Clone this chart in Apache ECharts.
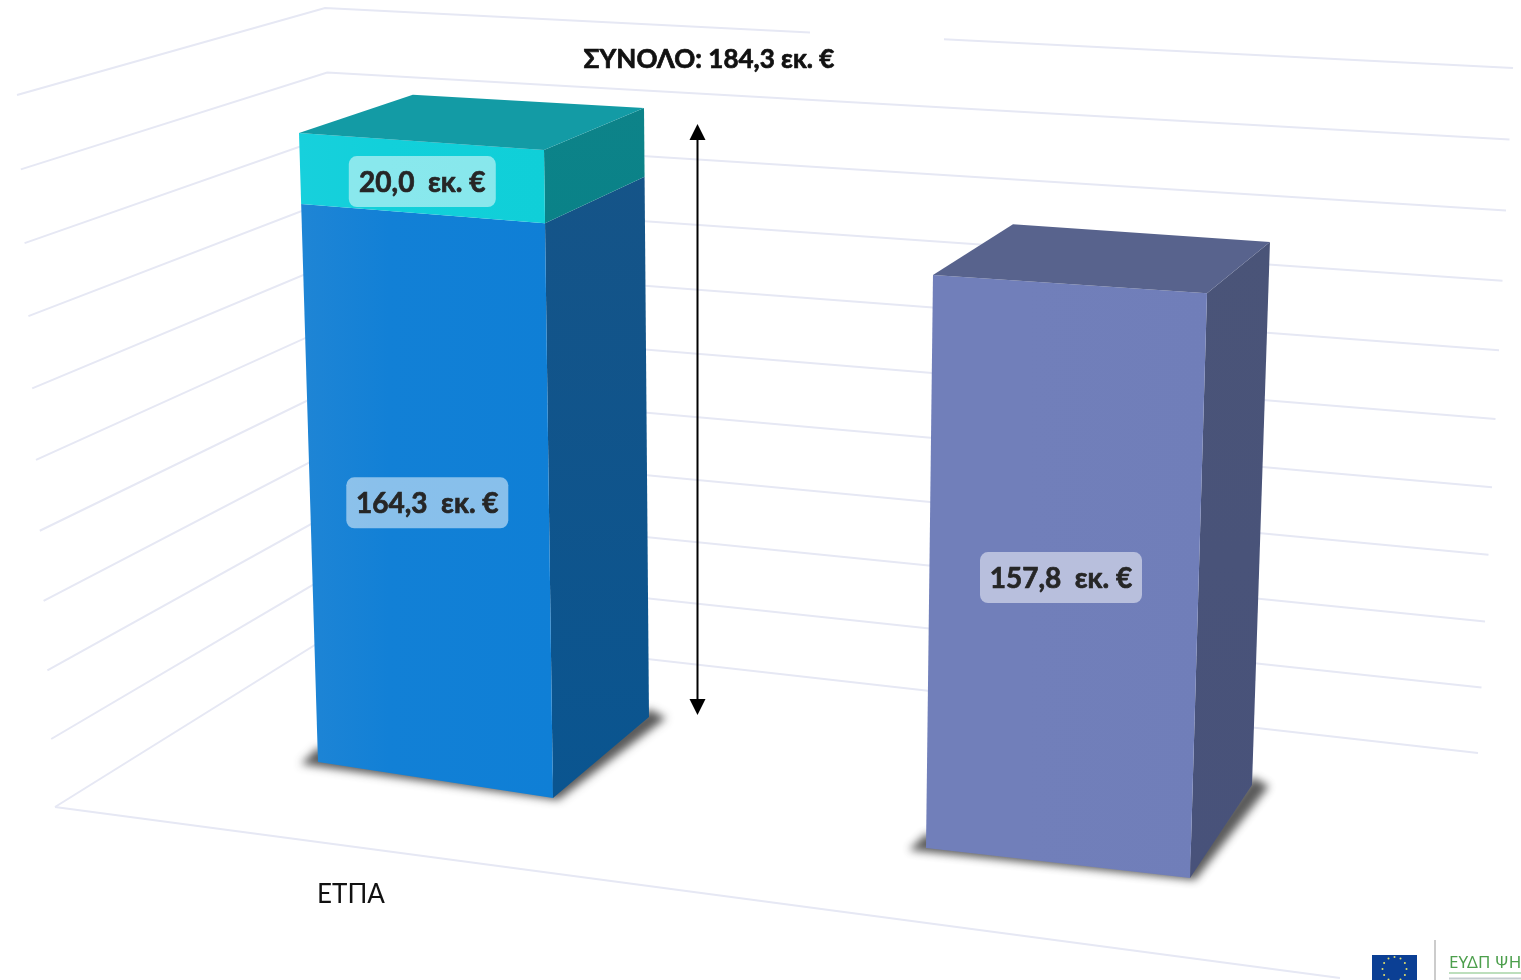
<!DOCTYPE html>
<html><head><meta charset="utf-8">
<style>html,body{margin:0;padding:0;background:#fff}#c{width:1521px;height:980px}</style>
<script src="https://cdn.jsdelivr.net/npm/echarts@6/dist/echarts.min.js"></script>
</head><body><div id="c"></div>
<script>
const categories = ['ΕΤΠΑ', ''];
const yTicks = [0, 20, 40, 60, 80, 100, 120, 140, 160, 180, 200];
const lowerSegment = [164.3, null];
const upperSegment = [20.0, null];
const otherBar = [null, 157.8];
const totalValue = [184.3];
const segmentLabels = { lower: '164,3  εκ. €', upper: '20,0  εκ. €', other: '157,8  εκ. €' };
const titleText = 'ΣΥΝΟΛΟ: 184,3 εκ. €';

const FONT = 'Lato, "Open Sans", "Noto Sans", sans-serif';
const K = 0.05;
// corner: [dx from category centre, dy from zero line, height scale, lean]
const geom = [
  { FL: [-33, -45, .9624, -.0302], FR: [202, -9, .9915, -.0139], BR: [298, -90, .932, -.0082], BL: [63, -126, .897, -.002] },
  { FL: [-48, 41, 1.031, .0122], FR: [216, 71, 1.052, .0291], BR: [278, -22, .977, .0331], BL: [14, -52, .955, .0471] }
];
const palette = {
  lower: { front: ['#1f85d5', '#1280d6', '#0f7fd6'], side: ['#155488', '#0a5590'] },
  upper: { front: ['#17d0dc', '#12d0da', '#10cfd8'], side: ['#0d8389', '#0a8288'], top: '#139ba5' },
  other: { front: ['#717fba', '#717fba', '#707eb9'], side: ['#4a5478', '#48527a'], top: '#58638d' }
};
const labelBox = { lower: [162, 51], upper: [147, 51], other: [162, 51] };
const labelNudge = { lower: [0, 2], upper: [2, 0], other: [-1, 0] };

function proj(px, H) { return px * (1 - K * (1 - px / H)); }

function wallItem(params, api) {
  const v = api.value(0);
  const base = api.coord([0, 0]);
  const H = base[1] - api.coord([0, 200])[1];
  const p = proj(base[1] - api.coord([0, v])[1], H);
  const t = v / 200;
  const style = { stroke: '#e6e8f4', lineWidth: 2, fill: null };
  const pts = [
    [55 - 38 * t, base[1] - p],
    [347 - 22 * t, base[1] - 182 - p * 617 / 712],
    [1478 + 35 * t, base[1] - 54 - p * 685 / 712]
  ];
  const children = [{ type: 'polyline', shape: { points: pts }, style }];
  if (v === 0) {
    children.push({ type: 'line', shape: { x1: pts[0][0], y1: pts[0][1], x2: 1340, y2: 978 }, style });
  }
  return { type: 'group', children };
}

function barItem(key) {
  return function (params, api) {
    const cat = api.value(0);
    if (api.value(2) == null || isNaN(api.value(2))) return null;
    const cx = api.coord([cat, 0])[0];
    const y0 = api.coord([cat, 0])[1];
    const H = y0 - api.coord([cat, 200])[1];
    const g = geom[cat];
    const pt = (c, v) => {
      const h = proj(y0 - api.coord([cat, v])[1], H) * c[2];
      return [cx + c[0] + c[3] * h, y0 + c[1] - h];
    };
    const lo = api.value(1), hi = api.value(2);
    const c = palette[key];
    const grad = new echarts.graphic.LinearGradient(0, 0, 1, 0, [
      { offset: 0, color: c.front[0] }, { offset: .35, color: c.front[1] }, { offset: 1, color: c.front[2] }
    ]);
    const children = [];
    if (lo === 0) {
      // soft contact shadow: the shape sits off-canvas and only its blur lands on the floor
      const off = 3000;
      const fl = pt(g.FL, 0), fr = pt(g.FR, 0), br = pt(g.BR, 0);
      const raw = [[fl[0] - 17, fl[1] + 2], [fr[0] + 5, fr[1] + 2], [br[0] + 17, br[1] + 1], [br[0], br[1] - 8], [fr[0], fr[1] - 20], [fl[0], fl[1] - 14]];
      children.push({
        type: 'polygon',
        shape: { points: raw.map(p => [p[0] - off, p[1]]) },
        style: { fill: '#333', shadowBlur: 8, shadowColor: 'rgba(60,60,60,.85)', shadowOffsetX: off }
      });
    }
    children.push({
      type: 'polygon',
      shape: { points: [pt(g.FR, lo), pt(g.BR, lo), pt(g.BR, hi), pt(g.FR, hi)] },
      style: { fill: new echarts.graphic.LinearGradient(0, 0, 0, 1, [{ offset: 0, color: c.side[0] }, { offset: 1, color: c.side[1] }]) }
    });
    children.push({
      type: 'polygon',
      shape: { points: [pt(g.FL, lo), pt(g.FR, lo), pt(g.FR, hi), pt(g.FL, hi)] },
      style: { fill: grad }
    });
    if (c.top) {
      children.push({
        type: 'polygon',
        shape: { points: [pt(g.FL, hi), pt(g.FR, hi), pt(g.BR, hi), pt(g.BL, hi)] },
        style: { fill: c.top }
      });
    }
    const q = [pt(g.FL, lo), pt(g.FR, lo), pt(g.FR, hi), pt(g.FL, hi)];
    const mx = q.reduce((s, p) => s + p[0], 0) / 4 - 2 + labelNudge[key][0];
    const my = q.reduce((s, p) => s + p[1], 0) / 4 + 4 + labelNudge[key][1];
    const box = labelBox[key];
    children.push({
      type: 'rect',
      shape: { x: mx - box[0] / 2, y: my - box[1] / 2, width: box[0], height: box[1], r: 8 },
      style: { fill: 'rgba(255,255,255,.5)' }
    });
    children.push({
      type: 'text', x: mx, y: my + 1,
      style: { text: segmentLabels[key], fill: '#262626', stroke: '#262626', lineWidth: .7, font: 'bold 28px ' + FONT, align: 'center', verticalAlign: 'middle' }
    });
    return { type: 'group', children };
  };
}

function arrowItem(params, api) {
  const base = api.coord([0, 0]);
  const H = base[1] - api.coord([0, 200])[1];
  const h = proj(base[1] - api.coord([0, api.value(1)])[1], H) * .9044;
  const x = base[0] + 346.5, yb = base[1] - 92, yt = yb - h;
  const st = { fill: '#000' };
  return {
    type: 'group', children: [
      { type: 'line', shape: { x1: x, y1: yt + 10, x2: x, y2: yb - 10 }, style: { stroke: '#000', lineWidth: 2 } },
      { type: 'polygon', shape: { points: [[x, yt], [x - 8, yt + 16], [x + 8, yt + 16]] }, style: st },
      { type: 'polygon', shape: { points: [[x, yb], [x - 8, yb - 16], [x + 8, yb - 16]] }, style: st }
    ]
  };
}

function items(values, starts) {
  return values.map((v, i) => [i, starts ? starts[i] || 0 : 0, v == null ? null : (starts ? (starts[i] || 0) + v : v)]);
}

const stars = [];
for (let i = 0; i < 12; i++) {
  const a = i * Math.PI / 6;
  stars.push({ type: 'circle', shape: { cx: 1394.5 + 12 * Math.cos(a), cy: 969 + 12 * Math.sin(a), r: 1 }, style: { fill: '#e8e26a' } });
}

const chart = echarts.init(document.getElementById('c'), null, { renderer: 'canvas' });
chart.setOption({
  animation: false,
  backgroundColor: '#ffffff',
  title: {
    text: titleText, left: 704, top: 42, textAlign: 'center',
    textStyle: { fontFamily: FONT, fontWeight: 'bold', fontSize: 26, color: '#111', textBorderColor: '#111', textBorderWidth: .7 }
  },
  grid: { left: 39.5, width: 1246, top: 95, height: 712 },
  xAxis: {
    type: 'category', data: categories,
    axisLine: { show: false }, axisTick: { show: false }, splitLine: { show: false },
    axisLabel: { margin: 75, fontFamily: FONT, fontSize: 26, color: '#111', interval: 0 }
  },
  yAxis: { type: 'value', min: 0, max: 200, interval: 20, show: false, splitLine: { show: false } },
  graphic: [
    { type: 'rect', z: 1, shape: { x: 810, y: 15, width: 134, height: 30 }, style: { fill: '#fff' } },
    { type: 'rect', z: 1, shape: { x: 1372, y: 955, width: 45, height: 25 }, style: { fill: '#0b3f94' } },
    ...stars.map(s => Object.assign({ z: 2 }, s)),
    { type: 'line', z: 1, shape: { x1: 1435, y1: 940, x2: 1435, y2: 980 }, style: { stroke: '#999', lineWidth: 1 } },
    { type: 'text', z: 1, x: 1449, y: 955, style: { text: 'ΕΥΔΠ ΨΗ', fill: '#4c9f4c', font: '17px "Noto Sans", sans-serif' } },
    { type: 'line', z: 1, shape: { x1: 1449, y1: 973, x2: 1521, y2: 973 }, style: { stroke: '#7cc07c', lineWidth: 1.2 } },
    { type: 'line', z: 1, shape: { x1: 1449, y1: 978.5, x2: 1521, y2: 978.5 }, style: { stroke: '#c5ccd0', lineWidth: 2 } }
  ],
  series: [
    { type: 'custom', name: 'grid', data: yTicks.map(v => [v]), renderItem: wallItem, silent: true, clip: false, z: 0 },
    { type: 'custom', name: 'lower', data: items(lowerSegment), encode: { x: 0, y: 2 }, renderItem: barItem('lower'), clip: false, z: 3 },
    { type: 'custom', name: 'upper', data: items(upperSegment, lowerSegment), encode: { x: 0, y: 2 }, renderItem: barItem('upper'), clip: false, z: 3 },
    { type: 'custom', name: 'other', data: items(otherBar), encode: { x: 0, y: 2 }, renderItem: barItem('other'), clip: false, z: 3 },
    { type: 'custom', name: 'arrow', data: [[0, totalValue[0]]], encode: { x: 0, y: 1 }, renderItem: arrowItem, clip: false, z: 4 }
  ]
});
</script></body></html>
